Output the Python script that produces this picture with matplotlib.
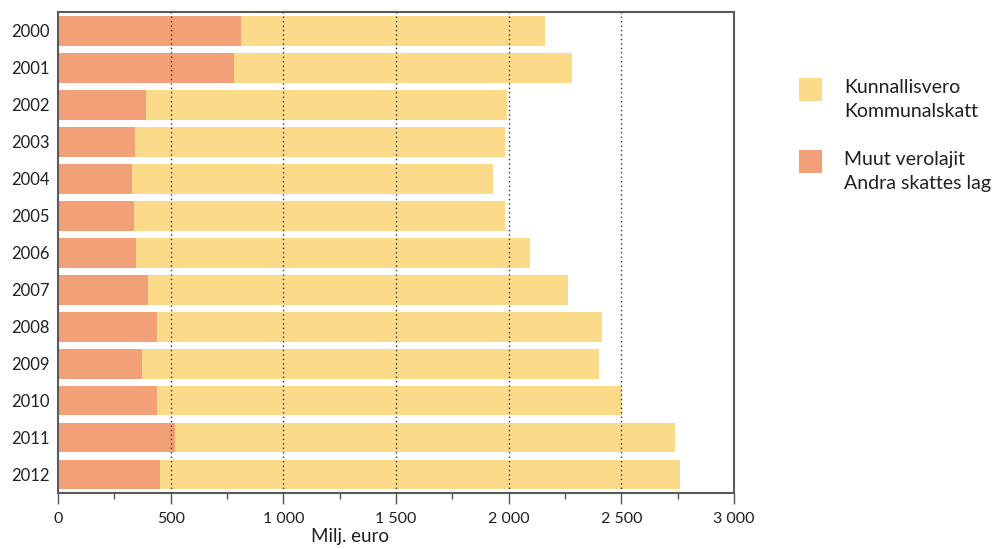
import matplotlib.pyplot as plt
from matplotlib.patches import Rectangle

plt.rcParams['font.family'] = ['Lato', 'DejaVu Sans']

years = ['2000', '2001', '2002', '2003', '2004', '2005', '2006',
         '2007', '2008', '2009', '2010', '2011', '2012']
# totals (kunnallisvero + muut), milj. euro
total = [2161, 2281, 1993, 1984, 1931, 1984, 2095, 2264, 2415, 2401, 2503, 2739, 2761]
muut = [812, 781, 391, 342, 328, 337, 346, 400, 439, 373, 439, 519, 453]
kunnallis = [t - m for t, m in zip(total, muut)]

xticks = [0, 500, 1000, 1500, 2000, 2500, 3000]
xlabels = ['0', '500', '1 000', '1 500', '2 000', '2 500', '3 000']
legend_labels = ['Kunnallisvero\nKommunalskatt', 'Muut verolajit\nAndra skattes lag']

c_yellow = '#FBDB8A'
c_orange = '#F2A078'
c_text = '#231F20'

fig = plt.figure(figsize=(10, 5.49), dpi=100)
ax = fig.add_axes([0.058, 0.102, 0.676, 0.876])

ypos = list(range(len(years)))
ax.barh(ypos, muut, height=0.81, color=c_orange, zorder=1)
ax.barh(ypos, kunnallis, left=muut, height=0.81, color=c_yellow, zorder=1)

for x in xticks[1:-1]:
    ax.axvline(x, color='#333333', linestyle=(0, (1, 2.2)), linewidth=1.0, zorder=3)

ax.set_xlim(0, 3000)
ax.set_ylim(len(years) - 0.5, -0.5)
ax.set_yticks(ypos)
ax.set_yticklabels(years, fontsize=12, color=c_text)
ax.tick_params(axis='y', length=0, pad=6)
ax.set_xticks(xticks)
ax.set_xticklabels(xlabels, fontsize=11.5, color=c_text)
ax.set_xticks(list(range(250, 3000, 500)), minor=True)
ax.tick_params(axis='x', which='major', length=8, width=1.0, color='#555555', pad=6)
ax.tick_params(axis='x', which='minor', length=4, width=1.0, color='#555555')

for s in ax.spines.values():
    s.set_color('#5a5a5a')
    s.set_linewidth(1.5)

fig.text(0.35, 0.022, 'Milj. euro', fontsize=13.5, color=c_text, ha='center', va='center')

# legend
leg_colors = [c_yellow, c_orange]
leg_y = [0.816, 0.685]
for col, lab, y in zip(leg_colors, legend_labels, leg_y):
    fig.add_artist(Rectangle((0.799, y), 0.023, 0.042, transform=fig.transFigure,
                             facecolor=col, edgecolor='none'))
    fig.text(0.844, y + 0.002, lab, fontsize=14, color=c_text, ha='left', va='center',
             linespacing=1.5, transform=fig.transFigure)

fig.savefig('out.png', dpi=100)
